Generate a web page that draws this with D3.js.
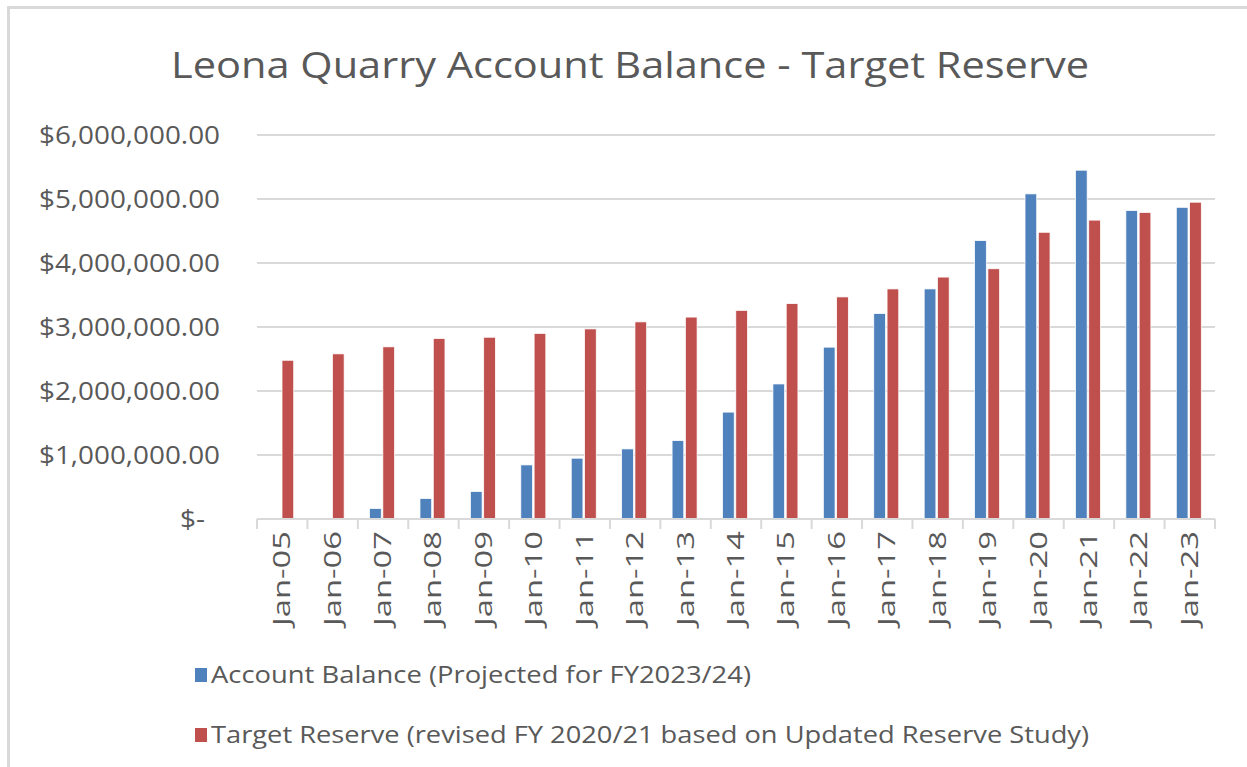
<!DOCTYPE html>
<html>
<head>
<meta charset="utf-8">
<script src="https://cdn.jsdelivr.net/npm/d3@7"></script>
<style>
  html, body { margin: 0; padding: 0; background: #fff; }
  svg { display: block; }
  text { font-family: "Open Sans", sans-serif; fill: #595959; }
</style>
</head>
<body>
<svg></svg>
<script>
// Data
const categories = ["Jan-05", "Jan-06", "Jan-07", "Jan-08", "Jan-09", "Jan-10", "Jan-11", "Jan-12", "Jan-13", "Jan-14",
  "Jan-15", "Jan-16", "Jan-17", "Jan-18", "Jan-19", "Jan-20", "Jan-21", "Jan-22", "Jan-23"];
const accountBalance = [null, null, 165000, 320000, 430000, 845000, 950000, 1095000, 1225000, 1670000,
  2110000, 2685000, 3210000, 3595000, 4350000, 5080000, 5450000, 4820000, 4870000];
const targetReserve = [2480000, 2580000, 2690000, 2820000, 2840000, 2900000, 2970000, 3080000, 3155000, 3260000,
  3365000, 3470000, 3595000, 3780000, 3910000, 4480000, 4670000, 4790000, 4950000];
const yTicks = [0, 1000000, 2000000, 3000000, 4000000, 5000000, 6000000];
const seriesNames = ["Account Balance (Projected for FY2023/24)", "Target Reserve (revised FY 2020/21 based on Updated Reserve Study)"];
const colors = ["#4F81BD", "#C0504D"];

const W = 1247, H = 767;
const plot = { l: 257, r: 1215, t: 135, b: 519 };

const svg = d3.select("svg").attr("width", W).attr("height", H);

// frame (cropped on right and bottom)
svg.append("path")
  .attr("d", `M8.5,${H} V7.5 H${W}`)
  .attr("fill", "none")
  .attr("stroke", "#d9d9d9")
  .attr("stroke-width", 3);

// Title
svg.append("text")
  .attr("x", 630).attr("y", 78)
  .attr("text-anchor", "middle")
  .attr("font-size", 37)
  .attr("textLength", 918)
  .attr("lengthAdjust", "spacingAndGlyphs")
  .text("Leona Quarry Account Balance - Target Reserve");

// Scales
const x0 = d3.scaleBand().domain(categories).range([plot.l, plot.r]).padding(0);
const y = d3.scaleLinear().domain([0, 6000000]).range([plot.b, plot.t]);
const groupW = 25;
const x1 = d3.scaleBand().domain([0, 1]).range([-groupW / 2 - 1, groupW / 2 - 1]).paddingInner(0.12);

// Gridlines
svg.append("g")
  .selectAll("line")
  .data(yTicks.filter(d => d > 0))
  .join("line")
    .attr("x1", plot.l).attr("x2", plot.r)
    .attr("y1", d => y(d)).attr("y2", d => y(d))
    .attr("stroke", "#d9d9d9")
    .attr("stroke-width", 2);

// Y labels
const fmt = d3.format("$,.2f");
svg.append("g")
  .selectAll("text")
  .data(yTicks)
  .join("text")
    .attr("x", d => d === 0 ? 205 : 220)
    .attr("y", d => y(d))
    .attr("dy", "0.35em")
    .attr("text-anchor", "end")
    .attr("font-size", 26)
    .attr("textLength", d => d === 0 ? 25 : 181)
    .attr("lengthAdjust", "spacingAndGlyphs")
    .text(d => d === 0 ? "$-" : fmt(d));

// Bars
const rows = categories.map((c, i) => ({ c, vals: [accountBalance[i], targetReserve[i]] }));
const groups = svg.append("g")
  .selectAll("g")
  .data(rows)
  .join("g")
    .attr("transform", d => `translate(${x0(d.c) + x0.bandwidth() / 2},0)`);

groups.selectAll("rect")
  .data(d => d.vals.map((v, k) => ({ v, k })).filter(e => e.v != null))
  .join("rect")
    .attr("x", e => x1(e.k))
    .attr("width", x1.bandwidth())
    .attr("y", e => y(e.v))
    .attr("height", e => y(0) - y(e.v))
    .attr("fill", e => colors[e.k])
    .attr("stroke", "#fff")
    .attr("stroke-width", 0.75);

// X axis line and ticks
svg.append("line")
  .attr("x1", plot.l).attr("x2", plot.r)
  .attr("y1", plot.b).attr("y2", plot.b)
  .attr("stroke", "#d9d9d9").attr("stroke-width", 2);

const bounds = categories.map(c => x0(c)).concat([plot.r]);
svg.append("g")
  .selectAll("line")
  .data(bounds)
  .join("line")
    .attr("x1", d => d).attr("x2", d => d)
    .attr("y1", plot.b).attr("y2", plot.b + 10)
    .attr("stroke", "#d9d9d9").attr("stroke-width", 2);

// X labels (rotated)
svg.append("g")
  .selectAll("text")
  .data(categories)
  .join("text")
    .attr("transform", d => `translate(${x0(d) + x0.bandwidth() / 2 + 8},${plot.b + 12}) rotate(-90)`)
    .attr("text-anchor", "end")
    .attr("font-size", 24)
    .attr("textLength", 95)
    .attr("lengthAdjust", "spacingAndGlyphs")
    .text(d => d);

// Legend
const legend = svg.append("g")
  .selectAll("g")
  .data(seriesNames)
  .join("g")
    .attr("transform", (d, i) => `translate(195,${675 + i * 60})`);

legend.append("rect")
  .attr("x", 0).attr("y", -7)
  .attr("width", 12).attr("height", 14)
  .attr("fill", (d, i) => colors[i]);

legend.append("text")
  .attr("x", 16).attr("y", 0)
  .attr("dy", "0.35em")
  .attr("font-size", 24)
  .attr("textLength", (d, i) => i === 0 ? 540 : 878)
  .attr("lengthAdjust", "spacingAndGlyphs")
  .text(d => d);
</script>
</body>
</html>
